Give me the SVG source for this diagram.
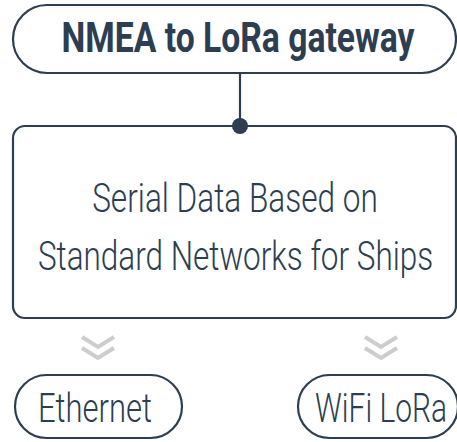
<svg xmlns="http://www.w3.org/2000/svg" width="457" height="442" viewBox="0 0 457 442">
<style>
.box{fill:#fff;stroke:#2c3e50;stroke-width:2.2}
.t{font-family:Roboto,"Liberation Sans",sans-serif;fill:#2c3e50;text-anchor:middle}
.title{font-weight:700;font-size:42px}
.lt{font-weight:300;font-size:40px}
.chev{fill:none;stroke:#cdcdcd;stroke-width:4}
</style>
<rect width="457" height="442" fill="#fff"/>
<g id="connectors">
<line x1="240" y1="73" x2="240" y2="126" stroke="#2c3e50" stroke-width="2.2"/>
<polyline class="chev" points="82,337 98,347 114,337"/>
<polyline class="chev" points="82,348 98,358 114,348"/>
<polyline class="chev" points="365,337 381,347 397,337"/>
<polyline class="chev" points="365,348 381,358 397,348"/>
</g>
<g id="title">
<rect class="box" x="13" y="5" width="443" height="68" rx="34"/>
<text class="t title" transform="translate(238,52) scale(0.8,1)" x="0" y="0" textLength="441" lengthAdjust="spacingAndGlyphs">NMEA to LoRa gateway</text>
</g>
<g id="serial">
<rect class="box" x="13" y="126" width="443" height="192" rx="12"/>
<text class="t lt" transform="translate(235,212) scale(0.75,1)" x="0" y="0" textLength="381" lengthAdjust="spacingAndGlyphs">Serial Data Based on</text>
<text class="t lt" transform="translate(235.5,270) scale(0.75,1)" x="0" y="0" textLength="527" lengthAdjust="spacingAndGlyphs">Standard Networks for Ships</text>
</g>
<circle cx="240" cy="126" r="8" fill="#2c3e50"/>
<g id="ethernet">
<rect class="box" x="15" y="375" width="167" height="63" rx="31.5"/>
<text class="t lt" transform="translate(95,422) scale(0.75,1)" x="0" y="0" textLength="152" lengthAdjust="spacingAndGlyphs">Ethernet</text>
</g>
<g id="wifi">
<rect class="box" x="298" y="375" width="160" height="63" rx="31.5"/>
<text class="t lt" transform="translate(381,422) scale(0.75,1)" x="0" y="0" textLength="176" lengthAdjust="spacingAndGlyphs">WiFi LoRa</text>
</g>
</svg>
